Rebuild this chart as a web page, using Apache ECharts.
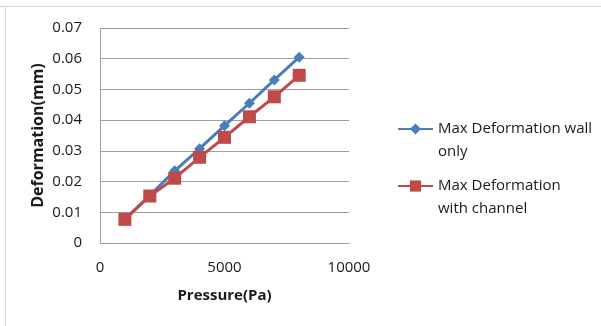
<!DOCTYPE html>
<html>
<head>
<meta charset="utf-8">
<script src="https://cdn.jsdelivr.net/npm/echarts@6/dist/echarts.min.js"></script>
<style>
  html, body { margin: 0; padding: 0; background: #fff; }
  #chart { width: 601px; height: 326px; }
</style>
</head>
<body>
<div id="chart"></div>
<script>
const pressure = [1000, 2000, 3000, 4000, 5000, 6000, 7000, 8000]
const wallOnly = [0.0078, 0.0155, 0.0235, 0.0307, 0.0382, 0.0455, 0.0531, 0.0605]
const withChannel = [0.0077, 0.0153, 0.0211, 0.0279, 0.0344, 0.0411, 0.0476, 0.0546]
const seriesNames = ['Max Deformation wall only', 'Max Deformation with channel']
// blank first line keeps the first text line level with the legend icon
const legendLabels = ['\nMax Deformation wall\nonly', '\nMax Deformation\nwith channel']

const font = "'Open Sans', 'Liberation Sans', sans-serif"
const chart = echarts.init(document.getElementById('chart'))

const legendBase = {
  orient: 'vertical',
  left: 397,
  padding: 0,
  itemWidth: 35,
  itemHeight: 14,
  textStyle: {
    fontFamily: font,
    fontSize: 15,
    color: '#1a1a1a',
    lineHeight: 23
  },
  formatter: name => legendLabels[seriesNames.indexOf(name)]
}

const option = {
  animation: false,
  grid: { left: 100, right: 252, top: 28, bottom: 83 },
  legend: [
    Object.assign({}, legendBase, { data: [seriesNames[0]], top: 94.5 }),
    Object.assign({}, legendBase, { data: [seriesNames[1]], top: 151.5 })
  ],
  graphic: [
    { type: 'line', shape: { x1: 0, y1: 6.5, x2: 601, y2: 6.5 }, style: { stroke: '#d9d9d9', lineWidth: 1 } },
    { type: 'line', shape: { x1: 5.5, y1: 6, x2: 5.5, y2: 326 }, style: { stroke: '#d9d9d9', lineWidth: 1 } }
  ],
  xAxis: {
    type: 'value',
    min: 0,
    max: 10000,
    interval: 5000,
    name: 'Pressure(Pa)',
    nameLocation: 'middle',
    nameGap: 45,
    nameTextStyle: { fontFamily: font, fontSize: 15, fontWeight: 'bold', color: '#1a1a1a' },
    axisLine: { show: true, lineStyle: { color: '#a0a0a0', width: 1 } },
    axisTick: { show: false },
    splitLine: { show: false },
    axisLabel: {
      fontFamily: font,
      fontSize: 15,
      color: '#1a1a1a',
      margin: 17,
      formatter: v => String(v)
    }
  },
  yAxis: {
    type: 'value',
    min: 0,
    max: 0.07,
    interval: 0.01,
    name: 'Deformation(mm)',
    nameLocation: 'middle',
    nameGap: 54,
    nameTextStyle: { fontFamily: font, fontSize: 16, fontWeight: 'bold', color: '#1a1a1a' },
    axisLine: { show: true, lineStyle: { color: '#a0a0a0', width: 1 } },
    axisTick: { show: false },
    splitLine: { show: true, lineStyle: { color: '#a0a0a0', width: 1 } },
    axisLabel: {
      fontFamily: font,
      fontSize: 15,
      color: '#1a1a1a',
      margin: 18,
      formatter: v => (v === 0 ? '0' : v.toFixed(2))
    }
  },
  series: [
    {
      name: seriesNames[0],
      type: 'line',
      data: pressure.map((p, i) => [p, wallOnly[i]]),
      symbol: 'diamond',
      symbolSize: 11,
      color: '#4a7ebb',
      lineStyle: { width: 3 }
    },
    {
      name: seriesNames[1],
      type: 'line',
      data: pressure.map((p, i) => [p, withChannel[i]]),
      symbol: 'rect',
      symbolSize: 13,
      color: '#be4b48',
      lineStyle: { width: 3 }
    }
  ]
}

chart.setOption(option)
</script>
</body>
</html>
